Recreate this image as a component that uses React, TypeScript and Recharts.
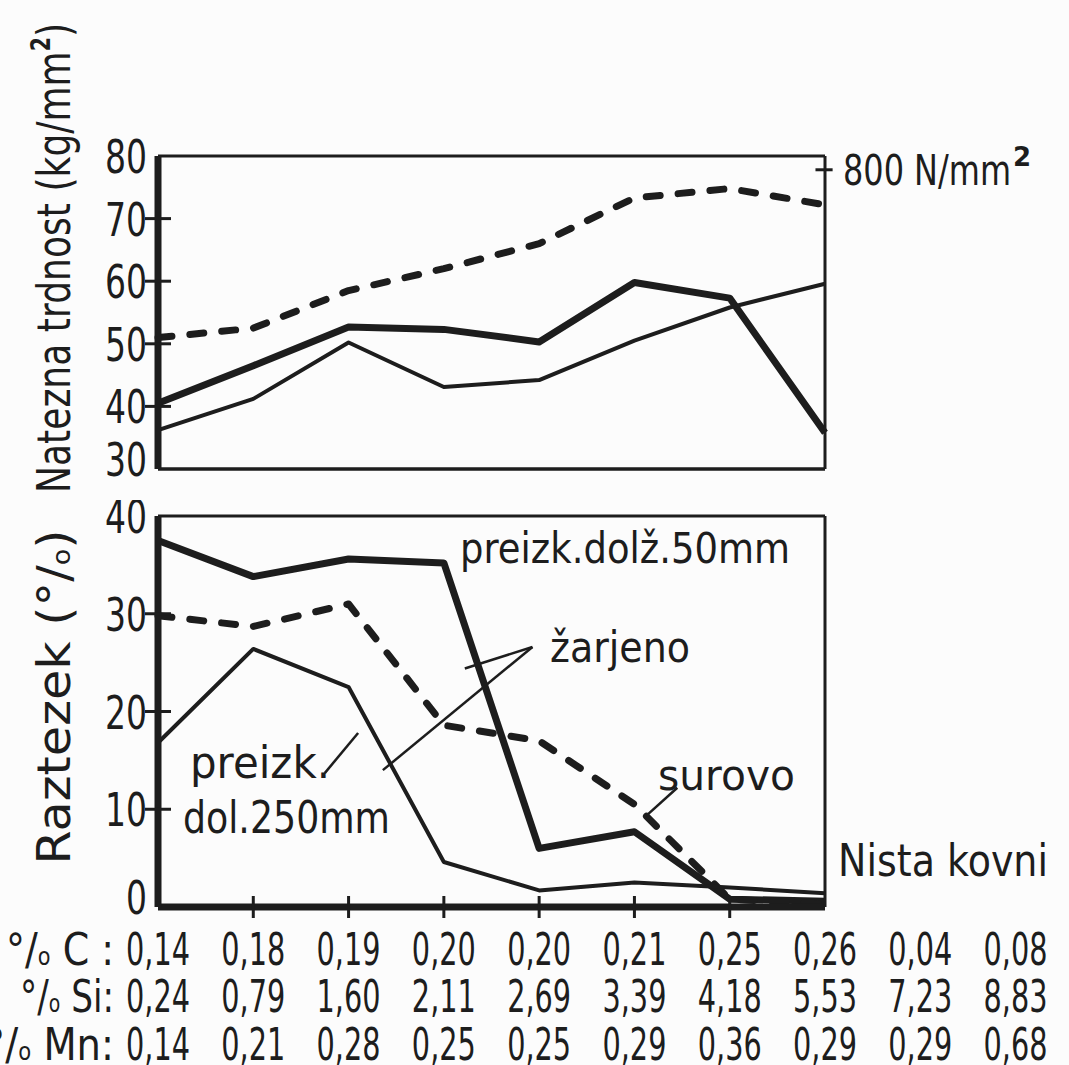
import React from "react";
import { LineChart, Line, XAxis, YAxis, ReferenceLine } from "recharts";

// category index along x (8 tested steels inside the plots)
const idx = [0, 1, 2, 3, 4, 5, 6, 7];

// composition rows printed under the x axis (10 steels, the last two are not forgeable)
const carbon = ["0,14", "0,18", "0,19", "0,20", "0,20", "0,21", "0,25", "0,26", "0,04", "0,08"];
const silicon = ["0,24", "0,79", "1,60", "2,11", "2,69", "3,39", "4,18", "5,53", "7,23", "8,83"];
const manganese = ["0,14", "0,21", "0,28", "0,25", "0,25", "0,29", "0,36", "0,29", "0,29", "0,68"];

// Natezna trdnost (kg/mm2)
const strengthRaw = [51, 52.5, 58.5, 62, 66, 73.3, 74.8, 72.2];
const strengthThick = [40.5, 46.5, 52.7, 52.3, 50.3, 59.8, 57.3, 35.8];
const strengthThin = [36.2, 41.2, 50.2, 43.1, 44.2, 50.5, 55.8, 59.6];

// Raztezek (%)
const elong50 = [37.5, 33.8, 35.6, 35.2, 6.0, 7.7, 0.8, 0.6];
const elongRaw = [29.8, 28.7, 31.0, 18.6, 17.0, 10.5, 0.8, 0.3];
const elong250 = [16.8, 26.4, 22.5, 4.6, 1.7, 2.5, 2.0, 1.4];

const topTicks = [30, 40, 50, 60, 70, 80];
const bottomTicks = [0, 10, 20, 30, 40];
const mark800 = 77.8; // where 800 N/mm2 sits on the kg/mm2 scale as drawn

const topData = idx.map((i) => ({ i, raw: strengthRaw[i], thick: strengthThick[i], thin: strengthThin[i] }));
const bottomData = idx.map((i) => ({ i, l50: elong50[i], raw: elongRaw[i], l250: elong250[i] }));

const INK = "#1d1d1d";
const FONT = "'DejaVu Sans', sans-serif";
const PLOT_L = 158;
const PLOT_R = 825;
const step = (PLOT_R - PLOT_L) / 7;

// narrow the wide fallback font to the condensed look of the original lettering
const squeeze = (s: string, per: number) => ({ textLength: s.length * per, lengthAdjust: "spacingAndGlyphs" as const });

const LeftTick = (p: any) => {
  const v = p.payload.value;
  const inner = v !== p.lo && v !== p.hi;
  const s = String(v);
  return (
    <g>
      {inner && <line x1={p.x - 13} x2={p.x + 13} y1={p.y} y2={p.y} stroke={INK} strokeWidth={3} />}
      <text x={p.x - 11} y={p.y} dy={v === p.lo ? 7 : 17} textAnchor="end" fontSize={46} fontFamily={FONT} fill={INK} {...squeeze(s, 21)}>
        {s}
      </text>
    </g>
  );
};

const BottomTick = (p: any) => {
  const v = p.payload.value;
  if (v === 0 || v === 7) return <g />;
  return <line x1={p.x} x2={p.x} y1={p.y - 11} y2={p.y + 11} stroke={INK} strokeWidth={3} />;
};

const lineProps = { type: "linear" as const, stroke: INK, dot: false, isAnimationActive: false, strokeLinejoin: "round" as const };

const Pm = () => (
  <>
    °/<tspan fontSize="0.55em">o</tspan>
  </>
);

const rows = [
  { label: "C :", values: carbon, y: 965, w: 108 },
  { label: "Si:", values: silicon, y: 1012, w: 94 },
  { label: "Mn:", values: manganese, y: 1060, w: 128 },
];

export default function App() {
  const txt = { fontFamily: FONT, fill: INK } as const;
  return (
    <div style={{ position: "absolute", left: 0, top: 0, width: 1069, height: 1065, background: "#fcfcfc", overflow: "hidden" }}>
      <div style={{ position: "absolute", left: 0, top: 0 }}>
        <LineChart width={1069} height={500} data={topData} margin={{ top: 156, right: 243, bottom: 30, left: 98 }}>
          <XAxis type="number" dataKey="i" domain={[0, 7]} ticks={idx} height={1} tick={false} tickLine={false} axisLine={{ stroke: INK, strokeWidth: 3.5 }} />
          <YAxis yAxisId="l" domain={[30, 80]} ticks={topTicks} interval={0} width={60} tickSize={0} tickMargin={0} tickLine={false} axisLine={{ stroke: INK, strokeWidth: 7 }} tick={(p: any) => <LeftTick {...p} lo={30} hi={80} />} />
          <YAxis yAxisId="r" orientation="right" domain={[30, 80]} width={1} tick={false} tickLine={false} axisLine={{ stroke: INK, strokeWidth: 3 }} />
          <ReferenceLine yAxisId="l" y={80} stroke={INK} strokeWidth={3} />
          <ReferenceLine yAxisId="l" ifOverflow="visible" stroke={INK} strokeWidth={3} segment={[{ x: 6.9, y: mark800 }, { x: 7.08, y: mark800 }]} />
          <Line yAxisId="l" dataKey="raw" {...lineProps} strokeWidth={7} strokeDasharray="14 18" strokeLinecap="round" />
          <Line yAxisId="l" dataKey="thick" {...lineProps} strokeWidth={7} />
          <Line yAxisId="l" dataKey="thin" {...lineProps} strokeWidth={4} />
        </LineChart>
      </div>
      <div style={{ position: "absolute", left: 0, top: 500 }}>
        <LineChart width={1069} height={565} data={bottomData} margin={{ top: 16, right: 243, bottom: 157, left: 98 }}>
          <XAxis type="number" dataKey="i" domain={[0, 7]} ticks={idx} interval={0} height={1} tickSize={0} tickMargin={0} tickLine={false} axisLine={{ stroke: INK, strokeWidth: 7 }} tick={(p: any) => <BottomTick {...p} />} />
          <YAxis yAxisId="l" domain={[0, 40]} ticks={bottomTicks} interval={0} width={60} tickSize={0} tickMargin={0} tickLine={false} axisLine={{ stroke: INK, strokeWidth: 7 }} tick={(p: any) => <LeftTick {...p} lo={0} hi={40} />} />
          <YAxis yAxisId="r" orientation="right" domain={[0, 40]} width={1} tick={false} tickLine={false} axisLine={{ stroke: INK, strokeWidth: 3 }} />
          <ReferenceLine yAxisId="l" y={40} stroke={INK} strokeWidth={3} />
          {/* leader lines of the labels */}
          <ReferenceLine yAxisId="l" ifOverflow="visible" stroke={INK} strokeWidth={2.5} segment={[{ x: 1.75, y: 13.7 }, { x: 2.1, y: 17.8 }]} />
          <ReferenceLine yAxisId="l" ifOverflow="visible" stroke={INK} strokeWidth={2.5} segment={[{ x: 3.93, y: 26.6 }, { x: 3.22, y: 24.4 }]} />
          <ReferenceLine yAxisId="l" ifOverflow="visible" stroke={INK} strokeWidth={2.5} segment={[{ x: 3.93, y: 26.6 }, { x: 2.36, y: 14.0 }]} />
          <ReferenceLine yAxisId="l" ifOverflow="visible" stroke={INK} strokeWidth={2.5} segment={[{ x: 5.45, y: 12.2 }, { x: 5.12, y: 9.3 }]} />
          <Line yAxisId="l" dataKey="l50" {...lineProps} strokeWidth={7} />
          <Line yAxisId="l" dataKey="raw" {...lineProps} strokeWidth={7} strokeDasharray="14 18" strokeLinecap="round" />
          <Line yAxisId="l" dataKey="l250" {...lineProps} strokeWidth={4} />
        </LineChart>
      </div>
      <svg width={1069} height={1065} style={{ position: "absolute", left: 0, top: 0, pointerEvents: "none" }}>
        <text transform="translate(70,258) rotate(-90)" textAnchor="middle" fontSize={46} textLength={470} lengthAdjust="spacingAndGlyphs" {...txt}>
          Natezna trdnost (kg/mm<tspan dy={-20} fontSize={26} fontWeight="bold">2</tspan><tspan dy={20}>)</tspan>
        </text>
        <text transform="translate(70,697) rotate(-90)" textAnchor="middle" fontSize={46} textLength={335} lengthAdjust="spacingAndGlyphs" {...txt}>
          Raztezek  (<Pm />)
        </text>
        <text x={843} y={185} fontSize={42} textLength={168} lengthAdjust="spacingAndGlyphs" {...txt}>800 N/mm</text>
        <text x={1013} y={166} fontSize={26} fontWeight="bold" {...txt}>2</text>
        <text x={460} y={563} fontSize={42} textLength={330} lengthAdjust="spacingAndGlyphs" {...txt}>preizk.dolž.50mm</text>
        <text x={550} y={662} fontSize={42} textLength={140} lengthAdjust="spacingAndGlyphs" {...txt}>žarjeno</text>
        <text x={658} y={790} fontSize={42} textLength={137} lengthAdjust="spacingAndGlyphs" {...txt}>surovo</text>
        <text x={190} y={778} fontSize={44} textLength={140} lengthAdjust="spacingAndGlyphs" {...txt}>preizk.</text>
        <text x={183} y={833} fontSize={44} textLength={207} lengthAdjust="spacingAndGlyphs" {...txt}>dol.250mm</text>
        <text x={838} y={876} fontSize={44} textLength={210} lengthAdjust="spacingAndGlyphs" {...txt}>Nista kovni</text>
        {rows.map((r) => (
          <g key={r.label}>
            <text x={114} y={r.y} textAnchor="end" fontSize={44} textLength={r.w} lengthAdjust="spacingAndGlyphs" {...txt}>
              <Pm /> {r.label}
            </text>
            {r.values.map((v, k) => (
              <text key={k} x={PLOT_L + k * step} y={r.y} textAnchor="middle" fontSize={44} textLength={64} lengthAdjust="spacingAndGlyphs" {...txt}>
                {v}
              </text>
            ))}
          </g>
        ))}
      </svg>
    </div>
  );
}
